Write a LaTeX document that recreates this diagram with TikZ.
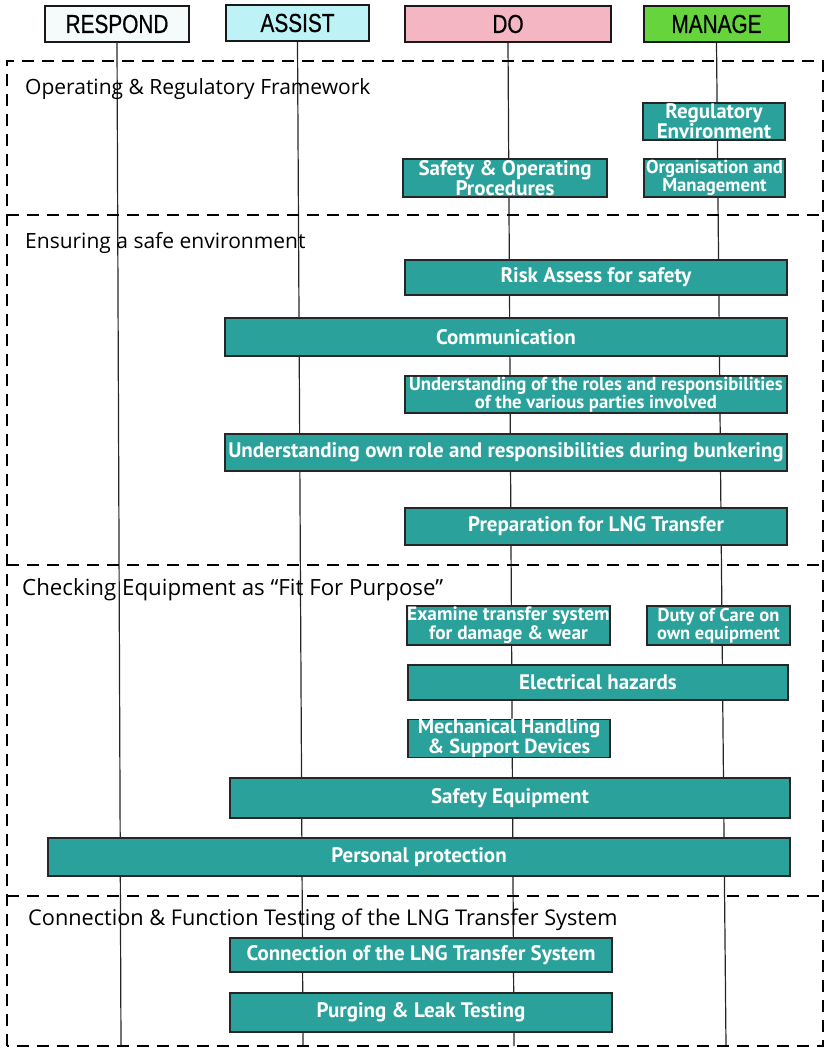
\documentclass[tikz,border=0pt]{standalone}
\usepackage{fontspec}
\setmainfont{Open Sans}
\newfontfamily\hdfont[FakeStretch=0.8,FakeBold=0.6]{Liberation Sans}
\newfontfamily\bxfont{PT Sans}
\usetikzlibrary{backgrounds}
\definecolor{tealbox}{RGB}{42,162,155}
\definecolor{respondc}{RGB}{245,250,250}
\definecolor{assistc}{RGB}{189,243,247}
\definecolor{doc}{RGB}{244,182,194}
\definecolor{managec}{RGB}{102,212,60}
\begin{document}
\begin{tikzpicture}[x=1pt,y=-1pt,
  hdr/.style={draw=black!90, line width=1.4pt, inner sep=0pt, minimum height=36pt,
    font=\hdfont\fontsize{26}{26}\selectfont},
  box/.style={draw=black!85, line width=1.4pt, fill=tealbox, text=white, inner sep=0pt,
    align=center, font=\bxfont\bfseries\fontsize{21}{17}\selectfont},
  fs/.style 2 args={font=\bxfont\bfseries\fontsize{#1}{#2}\selectfont},
  sect/.style={anchor=west, inner sep=0pt, font=\fontsize{21}{21}\selectfont},
  frame/.style={dash pattern=on 12pt off 8pt, line width=2.4pt, black},
  vline/.style={line width=1.2pt, black!85}]
\useasboundingbox (0,0) rectangle (828,1048);

% headers
\node[hdr, fill=respondc, minimum width=144pt] (hR) at (117,24) {RESPOND};
\node[hdr, fill=assistc, minimum width=143pt] (hA) at (297.5,23) {ASSIST};
\node[hdr, fill=doc, minimum width=206pt] (hD) at (508,24) {DO};
\node[hdr, fill=managec, minimum width=145pt] (hM) at (716.5,24) {MANAGE};

% line ends
\coordinate (eR) at (121,1046);
\coordinate (eA) at (303,1046);
\coordinate (eD) at (514,1046);
\coordinate (eM) at (726,1046);

% frame
\coordinate (fTL) at (7,61);
\coordinate (fTR) at (823,61);
\coordinate (fBR) at (823,1046);
\coordinate (fBL) at (7,1046);
\draw[frame] (fBL) -- (fTL) -- (fTR) -- (fBR) -- cycle;
\coordinate (s2L) at (7,215);  \coordinate (s2R) at (823,215);
\coordinate (s3L) at (7,565);  \coordinate (s3R) at (823,565);
\coordinate (s4L) at (7,896);  \coordinate (s4R) at (823,896);
\draw[frame] (s2L) -- (s2R);
\draw[frame] (s3L) -- (s3R);
\draw[frame] (s4L) -- (s4R);

% section labels
\node[sect] (t1) at (25,89) {Operating \& Regulatory Framework};
\node[sect] (t2) at (25,243) {Ensuring a safe environment};
\node[sect, font=\fontsize{22.3}{22.3}\selectfont] (t3) at (22,590) {Checking Equipment as “Fit For Purpose”};
\node[sect, font=\fontsize{21.7}{21.7}\selectfont] (t4) at (28,920) {Connection \& Function Testing of the LNG Transfer System};

% section 1
\node[box, minimum width=142pt, minimum height=37pt] (reg) at (714,121.5) {Regulatory\\Environment};
\node[box, minimum width=204pt, minimum height=38pt] (sop) at (505,178) {Safety \& Operating\\Procedures};
\node[box, fs={18.7}{15.5}, minimum width=141pt, minimum height=38pt] (org) at (714.5,178) {Organisation and\\Management};

% section 2
\node[box, minimum width=382pt, minimum height=35pt] (risk) at (596,277.5) {Risk Assess for safety};
\node[box, minimum width=562pt, minimum height=38pt] (comm) at (506,337) {Communication};
\node[box, fs={18.7}{15.5}, minimum width=382pt, minimum height=37pt] (roles) at (596,394.5) {Understanding of the roles and responsibilities\\of the various parties involved};
\node[box, minimum width=562pt, minimum height=37pt] (own) at (506,452.5) {Understanding own role and responsibilities during bunkering};
\node[box, minimum width=382pt, minimum height=37pt] (prep) at (596,526.5) {Preparation for LNG Transfer};

% section 3
\node[box, fs={19.3}{16}, minimum width=203pt, minimum height=39pt] (exam) at (508.5,625.5) {Examine transfer system\\for damage \& wear};
\node[box, fs={18.5}{15.5}, minimum width=143pt, minimum height=39pt] (duty) at (718.5,625.5) {Duty of Care on\\own equipment};
\node[box, minimum width=380pt, minimum height=35pt] (elec) at (598,682.5) {Electrical hazards};
\node[box, fs={20.4}{16.5}, minimum width=202pt, minimum height=37pt] (mech) at (509,738.5) {Mechanical Handling\\\& Support Devices};
\node[box, minimum width=560pt, minimum height=40pt] (safe) at (510,798) {Safety Equipment};
\node[box, minimum width=742pt, minimum height=38pt] (pers) at (419,857) {Personal protection};

% section 4
\node[box, minimum width=382pt, minimum height=34pt] (conn) at (421,955) {Connection of the LNG Transfer System};
\node[box, minimum width=382pt, minimum height=39pt] (purge) at (421,1012.5) {Purging \& Leak Testing};

% vertical lines behind
\begin{pgfonlayer}{background}
\draw[vline] (hR.south) -- (eR);
\draw[vline] (hA.south) -- (eA);
\draw[vline] (hD.south) -- (eD);
\draw[vline] (hM.south) -- (eM);
\end{pgfonlayer}
\end{tikzpicture}
\end{document}
